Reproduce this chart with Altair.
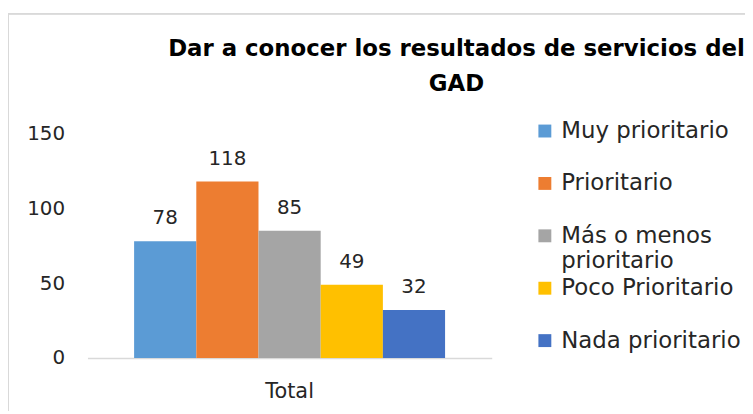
import altair as alt
import pandas as pd

categories = ["Muy prioritario", "Prioritario", "Más o menos prioritario", "Poco Prioritario", "Nada prioritario"]
values = [78, 118, 85, 49, 32]
colors = ["#5B9BD5", "#ED7D31", "#A5A5A5", "#FFC000", "#4472C4"]
group = ["Total"] * 5
title_lines = ["Dar a conocer los resultados de servicios del", "GAD"]
y_ticks = [0, 50, 100, 150]

df = pd.DataFrame({"grupo": group, "categoria": categories, "valor": values})

FONT = "DejaVu Sans"
W, H = 407, 226

x = alt.X("grupo:N", title=None,
          scale=alt.Scale(paddingInner=0, paddingOuter=0.15),
          axis=alt.Axis(labelAngle=0, domainColor="#d9d9d9", domainWidth=1.5, ticks=False,
                        labelFont=FONT, labelFontSize=21, labelColor="#262626", labelPadding=23))
xo = alt.XOffset("categoria:N", sort=categories, scale=alt.Scale(paddingInner=0, paddingOuter=0))
y = alt.Y("valor:Q", title=None,
          scale=alt.Scale(domain=[0, 150], nice=False),
          axis=alt.Axis(values=y_ticks, grid=False, domain=False, ticks=False,
                        labelFont=FONT, labelFontSize=20, labelColor="#262626", labelPadding=23))

color = alt.Color("categoria:N", sort=categories,
                  scale=alt.Scale(domain=categories, range=colors),
                  legend=alt.Legend(title=None, orient="none", legendX=449, legendY=-14,
                                    symbolType="square", symbolSize=169, symbolStrokeWidth=0,
                                    labelFont=FONT, labelFontSize=23, labelColor="#262626",
                                    labelOffset=5, rowPadding=3.75, labelLimit=300, gridAlign="all",
                                    labelExpr="datum.label == 'Más o menos prioritario' ? ['Más o menos', 'prioritario'] : datum.label"))

bars = alt.Chart(df).mark_bar().encode(x=x, xOffset=xo, y=y, color=color)

labels = alt.Chart(df).mark_text(baseline="alphabetic", dy=-17, font=FONT, fontSize=20, color="#262626").encode(
    x=x, xOffset=xo, y=y, text="valor:Q")

border_top = alt.Chart(df).mark_rule(color="#d9d9d9", strokeWidth=1).encode(
    x=alt.value(-79.5), x2=alt.value(700), y=alt.value(-120.5))
border_left = alt.Chart(df).mark_rule(color="#d9d9d9", strokeWidth=1).encode(
    x=alt.value(-79.5), y=alt.value(-120.5), y2=alt.value(300))

chart = alt.layer(border_top, border_left, bars, labels).properties(
    width=W, height=H,
    padding={"left": 80, "top": 125, "right": 255, "bottom": 52},
    autosize=alt.AutoSizeParams(type="none"),
    title=alt.Title(text=title_lines, anchor="middle", frame="group", dx=168, offset=0, dy=83,
                    font=FONT, fontSize=23, fontWeight="bold", color="#000000", lineHeight=35),
).configure_view(stroke=None)

chart.save("out.html", embed_options={"renderer": "svg", "actions": False})
